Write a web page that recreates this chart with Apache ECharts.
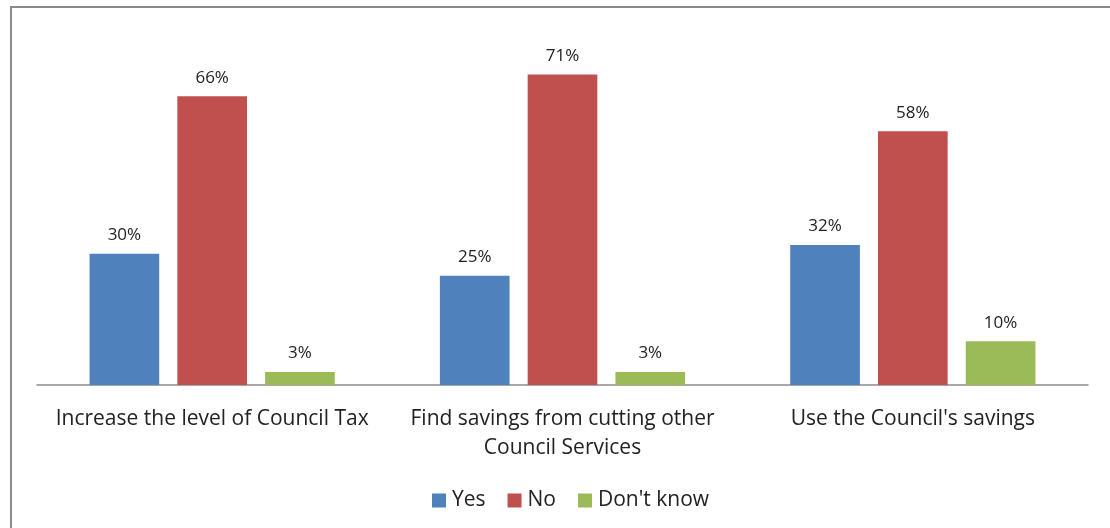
<!DOCTYPE html>
<html>
<head>
<meta charset="utf-8">
<script src="https://cdn.jsdelivr.net/npm/echarts@6/dist/echarts.min.js"></script>
<style>
  html, body { margin: 0; padding: 0; background: #fff; }
  #chart { width: 1110px; height: 528px; }
</style>
</head>
<body>
<div id="chart"></div>
<script>
var categories = ['Increase the level of Council Tax', 'Find savings from cutting other\nCouncil Services', "Use the Council's savings"];
var yesData = [30, 25, 32];
var noData = [66, 71, 58];
var dontKnowData = [3, 3, 10];
var seriesNames = ['Yes', 'No', "Don't know"];

var chart = echarts.init(document.getElementById('chart'));
var font = 'Open Sans';

function bar(name, data, color) {
  return {
    name: name,
    type: 'bar',
    data: data,
    barGap: '26%',
    barCategoryGap: '30%',
    itemStyle: { color: color },
    label: {
      show: true,
      position: 'top',
      distance: 10,
      formatter: '{c}%',
      fontFamily: font,
      fontSize: 17,
      color: '#222'
    }
  };
}

chart.setOption({
  animation: false,
  graphic: [{
    type: 'rect',
    shape: { x: 11, y: 7, width: 1120, height: 540 },
    style: { fill: 'none', stroke: '#8a8a8a', lineWidth: 2 }
  }],
  legend: {
    bottom: 12,
    left: 427,
    icon: 'rect',
    itemWidth: 14,
    itemHeight: 14,
    itemGap: 22,
    itemStyle: { borderWidth: 0 },
    data: seriesNames,
    textStyle: { fontFamily: font, fontSize: 21, color: '#222', padding: [0, 0, 0, 1] }
  },
  grid: { left: 37, right: 22, top: 35, bottom: 143 },
  xAxis: {
    type: 'category',
    data: categories,
    axisTick: { show: false },
    axisLine: { lineStyle: { color: '#8c8c8c', width: 1.5 } },
    axisLabel: {
      interval: 0,
      margin: 20,
      fontFamily: font,
      fontSize: 21,
      lineHeight: 29,
      color: '#222'
    }
  },
  yAxis: {
    type: 'value',
    min: 0,
    max: 80,
    show: false,
    splitLine: { show: false }
  },
  series: [
    bar(seriesNames[0], yesData, '#4f81bd'),
    bar(seriesNames[1], noData, '#c0504d'),
    bar(seriesNames[2], dontKnowData, '#9bbb59')
  ]
});
</script>
</body>
</html>
